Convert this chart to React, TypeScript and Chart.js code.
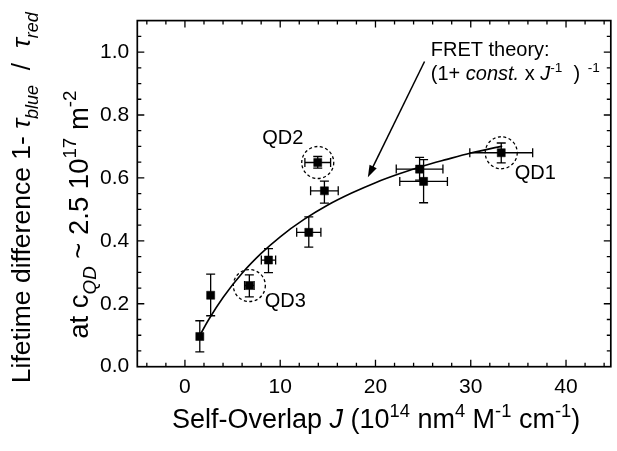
import React, { useEffect, useRef } from 'react';
import { Chart, registerables } from 'chart.js';
Chart.register(...registerables);

// ---------- data ----------
const J_VALUES = [1.56, 2.7, 6.76, 8.77, 13.0, 13.94, 14.64, 24.63, 25.05, 33.2];
const LIFETIME_DIFF = [0.096, 0.227, 0.258, 0.339, 0.427, 0.649, 0.559, 0.628, 0.589, 0.68];
const J_ERR = [0, 0, 0.5, 0.75, 1.27, 1.35, 1.45, 2.45, 2.5, 3.3];
const Y_ERR_UP = [0.05, 0.067, 0.034, 0.036, 0.049, 0.019, 0.031, 0.037, 0.069, 0.031];
const Y_ERR_DOWN = [0.049, 0.065, 0.036, 0.04, 0.047, 0.018, 0.039, 0.035, 0.068, 0.032];

// FRET theory curve
const FIT_J = [1.5, 2.5, 4, 6, 8, 10, 12.5, 15, 17.5, 20, 22.5, 25, 27.5, 30, 33.3];
const FIT_Y = [0.096, 0.15, 0.22, 0.297, 0.36, 0.413, 0.468, 0.514, 0.552, 0.585, 0.613, 0.638, 0.659, 0.679, 0.701];

const X_TICKS = [0, 10, 20, 30, 40];
const Y_TICKS = [0, 0.2, 0.4, 0.6, 0.8, 1.0];

const QD_NAMES = ['QD1', 'QD2', 'QD3'];
const QD_INDEX = [9, 5, 2];

// ---------- layout / style constants ----------
const W = 617;
const H = 451;
const FONT = '"Liberation Sans", Arial, Helvetica, sans-serif';
const QD_OFFSETS = [[34, 21], [-35, -24], [36, 16]];
const ARROW_FROM = { x: 25.15, y: 0.97 };
const ARROW_TO = { x: 19.2, y: 0.602 };
const TEXT_POS = { x: 25.8, y: 0.987 };

type Seg = { t: string; it?: boolean; sub?: boolean; sup?: boolean };

function segFont(s: Seg, size: number) {
  const sz = s.sub || s.sup ? size * 0.68 : size;
  return `${s.it ? 'italic ' : ''}${sz}px ${FONT}`;
}

function drawRich(ctx: CanvasRenderingContext2D, segs: Seg[], x: number, y: number, size: number, align: 'left' | 'center') {
  let total = 0;
  for (const s of segs) {
    ctx.font = segFont(s, size);
    total += ctx.measureText(s.t).width;
  }
  let cx = align === 'center' ? x - total / 2 : x;
  ctx.textBaseline = 'alphabetic';
  ctx.textAlign = 'left';
  for (const s of segs) {
    ctx.font = segFont(s, size);
    const dy = s.sub ? size * 0.3 : s.sup ? -size * 0.42 : 0;
    ctx.fillText(s.t, cx, y + dy);
    cx += ctx.measureText(s.t).width;
  }
}

const Y_TITLE_1: Seg[] = [
  { t: 'Lifetime difference 1- ' },
  { t: 'τ', it: true },
  { t: 'blue', it: true, sub: true },
  { t: '  /  ' },
  { t: 'τ', it: true },
  { t: 'red', it: true, sub: true },
];
const Y_TITLE_2: Seg[] = [
  { t: 'at c' },
  { t: 'QD', it: true, sub: true },
  { t: ' ~ 2.5 10' },
  { t: '17', sup: true },
  { t: ' m' },
  { t: '-2', sup: true },
];
const X_TITLE: Seg[] = [
  { t: 'Self-Overlap ' },
  { t: 'J', it: true },
  { t: ' (10' },
  { t: '14', sup: true },
  { t: ' nm' },
  { t: '4', sup: true },
  { t: ' M' },
  { t: '-1', sup: true },
  { t: ' cm' },
  { t: '-1', sup: true },
  { t: ')' },
];
const FRET_LINE_2: Seg[] = [
  { t: '(1+ ' },
  { t: 'const.', it: true },
  { t: ' x ' },
  { t: 'J', it: true },
  { t: '-1', sup: true },
  { t: '  )' },
  { t: '  -1', sup: true },
];

const decorPlugin = {
  id: 'decor',
  beforeDatasetsDraw(chart: any) {
    const { ctx, scales } = chart;
    const xs = scales.x;
    const ys = scales.y;
    ctx.save();
    ctx.strokeStyle = '#000';
    ctx.lineWidth = 1.3;
    const cap = 4.5;
    for (let i = 0; i < J_VALUES.length; i++) {
      const px = xs.getPixelForValue(J_VALUES[i]);
      const py = ys.getPixelForValue(LIFETIME_DIFF[i]);
      const yt = ys.getPixelForValue(LIFETIME_DIFF[i] + Y_ERR_UP[i]);
      const yb = ys.getPixelForValue(LIFETIME_DIFF[i] - Y_ERR_DOWN[i]);
      ctx.beginPath();
      ctx.moveTo(px, yt); ctx.lineTo(px, yb);
      ctx.moveTo(px - cap, yt); ctx.lineTo(px + cap, yt);
      ctx.moveTo(px - cap, yb); ctx.lineTo(px + cap, yb);
      if (J_ERR[i] > 0) {
        const xl = xs.getPixelForValue(J_VALUES[i] - J_ERR[i]);
        const xr = xs.getPixelForValue(J_VALUES[i] + J_ERR[i]);
        ctx.moveTo(xl, py); ctx.lineTo(xr, py);
        ctx.moveTo(xl, py - cap); ctx.lineTo(xl, py + cap);
        ctx.moveTo(xr, py - cap); ctx.lineTo(xr, py + cap);
      }
      ctx.stroke();
    }
    // dashed circles
    ctx.setLineDash([3, 2.5]);
    ctx.lineWidth = 1.3;
    for (const idx of QD_INDEX) {
      const px = xs.getPixelForValue(J_VALUES[idx]);
      const py = ys.getPixelForValue(LIFETIME_DIFF[idx]);
      ctx.beginPath();
      ctx.arc(px, py, 16, 0, Math.PI * 2);
      ctx.stroke();
    }
    ctx.restore();
  },
  afterDraw(chart: any) {
    const { ctx, chartArea, scales } = chart;
    const { left, right, top, bottom } = chartArea;
    const xs = scales.x;
    const ys = scales.y;
    ctx.save();
    ctx.strokeStyle = '#000';
    ctx.fillStyle = '#000';
    ctx.lineWidth = 1.7;
    ctx.strokeRect(left, top, right - left, bottom - top);
    ctx.lineWidth = 1.3;
    ctx.beginPath();
    for (let v = -4; v <= 44; v += 2) {
      const px = xs.getPixelForValue(v);
      const len = v % 10 === 0 ? 7 : 4;
      ctx.moveTo(px, bottom); ctx.lineTo(px, bottom - len);
      ctx.moveTo(px, top); ctx.lineTo(px, top + len);
    }
    for (let k = 1; k <= 21; k++) {
      const v = k * 0.05;
      const py = ys.getPixelForValue(v);
      const len = k % 4 === 0 ? 7 : 4;
      ctx.moveTo(left, py); ctx.lineTo(left + len, py);
      ctx.moveTo(right, py); ctx.lineTo(right - len, py);
    }
    ctx.stroke();

    // QD labels
    ctx.font = `20px ${FONT}`;
    ctx.textAlign = 'center';
    ctx.textBaseline = 'middle';
    QD_NAMES.forEach((name, k) => {
      const idx = QD_INDEX[k];
      const px = xs.getPixelForValue(J_VALUES[idx]) + QD_OFFSETS[k][0];
      const py = ys.getPixelForValue(LIFETIME_DIFF[idx]) + QD_OFFSETS[k][1];
      ctx.fillText(name, px, py);
    });

    // arrow
    const ax0 = xs.getPixelForValue(ARROW_FROM.x);
    const ay0 = ys.getPixelForValue(ARROW_FROM.y);
    const ax1 = xs.getPixelForValue(ARROW_TO.x);
    const ay1 = ys.getPixelForValue(ARROW_TO.y);
    const ang = Math.atan2(ay1 - ay0, ax1 - ax0);
    const hl = 12;
    const hw = 4;
    ctx.lineWidth = 1.5;
    ctx.beginPath();
    ctx.moveTo(ax0, ay0);
    ctx.lineTo(ax1 - Math.cos(ang) * hl * 0.8, ay1 - Math.sin(ang) * hl * 0.8);
    ctx.stroke();
    ctx.beginPath();
    ctx.moveTo(ax1, ay1);
    ctx.lineTo(ax1 - Math.cos(ang) * hl - Math.sin(ang) * hw, ay1 - Math.sin(ang) * hl + Math.cos(ang) * hw);
    ctx.lineTo(ax1 - Math.cos(ang) * hl + Math.sin(ang) * hw, ay1 - Math.sin(ang) * hl - Math.cos(ang) * hw);
    ctx.closePath();
    ctx.fill();

    // FRET text
    const tx = xs.getPixelForValue(TEXT_POS.x);
    const ty = ys.getPixelForValue(TEXT_POS.y);
    drawRich(ctx, [{ t: 'FRET theory:' }], tx, ty, 20, 'left');
    drawRich(ctx, FRET_LINE_2, tx, ty + 24, 20, 'left');

    // x title
    drawRich(ctx, X_TITLE, (left + right) / 2 + 2, 428, 27, 'center');

    // y titles
    const cy = (top + bottom) / 2;
    ctx.save();
    ctx.translate(30, cy + 4);
    ctx.rotate(-Math.PI / 2);
    drawRich(ctx, Y_TITLE_1, 0, 0, 26.5, 'center');
    ctx.restore();
    ctx.save();
    ctx.translate(88, cy + 21);
    ctx.rotate(-Math.PI / 2);
    drawRich(ctx, Y_TITLE_2, 0, 0, 27.5, 'center');
    ctx.restore();
    ctx.restore();
  },
};

export default function App() {
  const ref = useRef<HTMLCanvasElement | null>(null);
  useEffect(() => {
    document.body.style.margin = '0';
    const canvas = ref.current;
    if (!canvas) return;
    const chart = new Chart(canvas, {
      type: 'scatter',
      data: {
        datasets: [
          {
            label: 'FRET theory',
            data: FIT_J.map((x, i) => ({ x, y: FIT_Y[i] })),
            showLine: true,
            borderColor: '#000',
            borderWidth: 1.6,
            pointRadius: 0,
            cubicInterpolationMode: 'monotone',
            fill: false,
          } as any,
          {
            label: 'Lifetime difference',
            data: J_VALUES.map((x, i) => ({ x, y: LIFETIME_DIFF[i] })),
            showLine: false,
            pointStyle: 'rect',
            pointRadius: 5.7,
            backgroundColor: '#000',
            borderColor: '#000',
            borderWidth: 0.5,
          },
        ],
      },
      options: {
        animation: false,
        responsive: false,
        devicePixelRatio: 1,
        layout: { padding: { top: 14, right: 3, left: 0, bottom: 0 } },
        plugins: { legend: { display: false }, tooltip: { enabled: false } },
        scales: {
          x: {
            type: 'linear',
            min: -5,
            max: 44.7,
            grid: { display: false, drawTicks: false },
            border: { display: false },
            afterBuildTicks: (s: any) => { s.ticks = X_TICKS.map((v) => ({ value: v })); },
            afterFit: (s: any) => { s.height = 84.3; },
            ticks: {
              color: '#000',
              font: { family: FONT, size: 21 },
              padding: 8,
              maxRotation: 0,
              callback: (v: any) => String(v),
            },
          },
          y: {
            type: 'linear',
            min: 0,
            max: 1.1,
            grid: { display: false, drawTicks: false },
            border: { display: false },
            afterBuildTicks: (s: any) => { s.ticks = Y_TICKS.map((v) => ({ value: v })); },
            afterFit: (s: any) => { s.width = 137.3; },
            ticks: {
              color: '#000',
              font: { family: FONT, size: 21 },
              padding: 8,
              callback: (v: any) => Number(v).toFixed(1),
            },
          },
        },
      },
      plugins: [decorPlugin],
    });
    return () => chart.destroy();
  }, []);
  return (
    <div style={{ width: W, height: H, position: 'relative' }}>
      <canvas ref={ref} width={W} height={H} style={{ display: 'block' }} />
    </div>
  );
}
